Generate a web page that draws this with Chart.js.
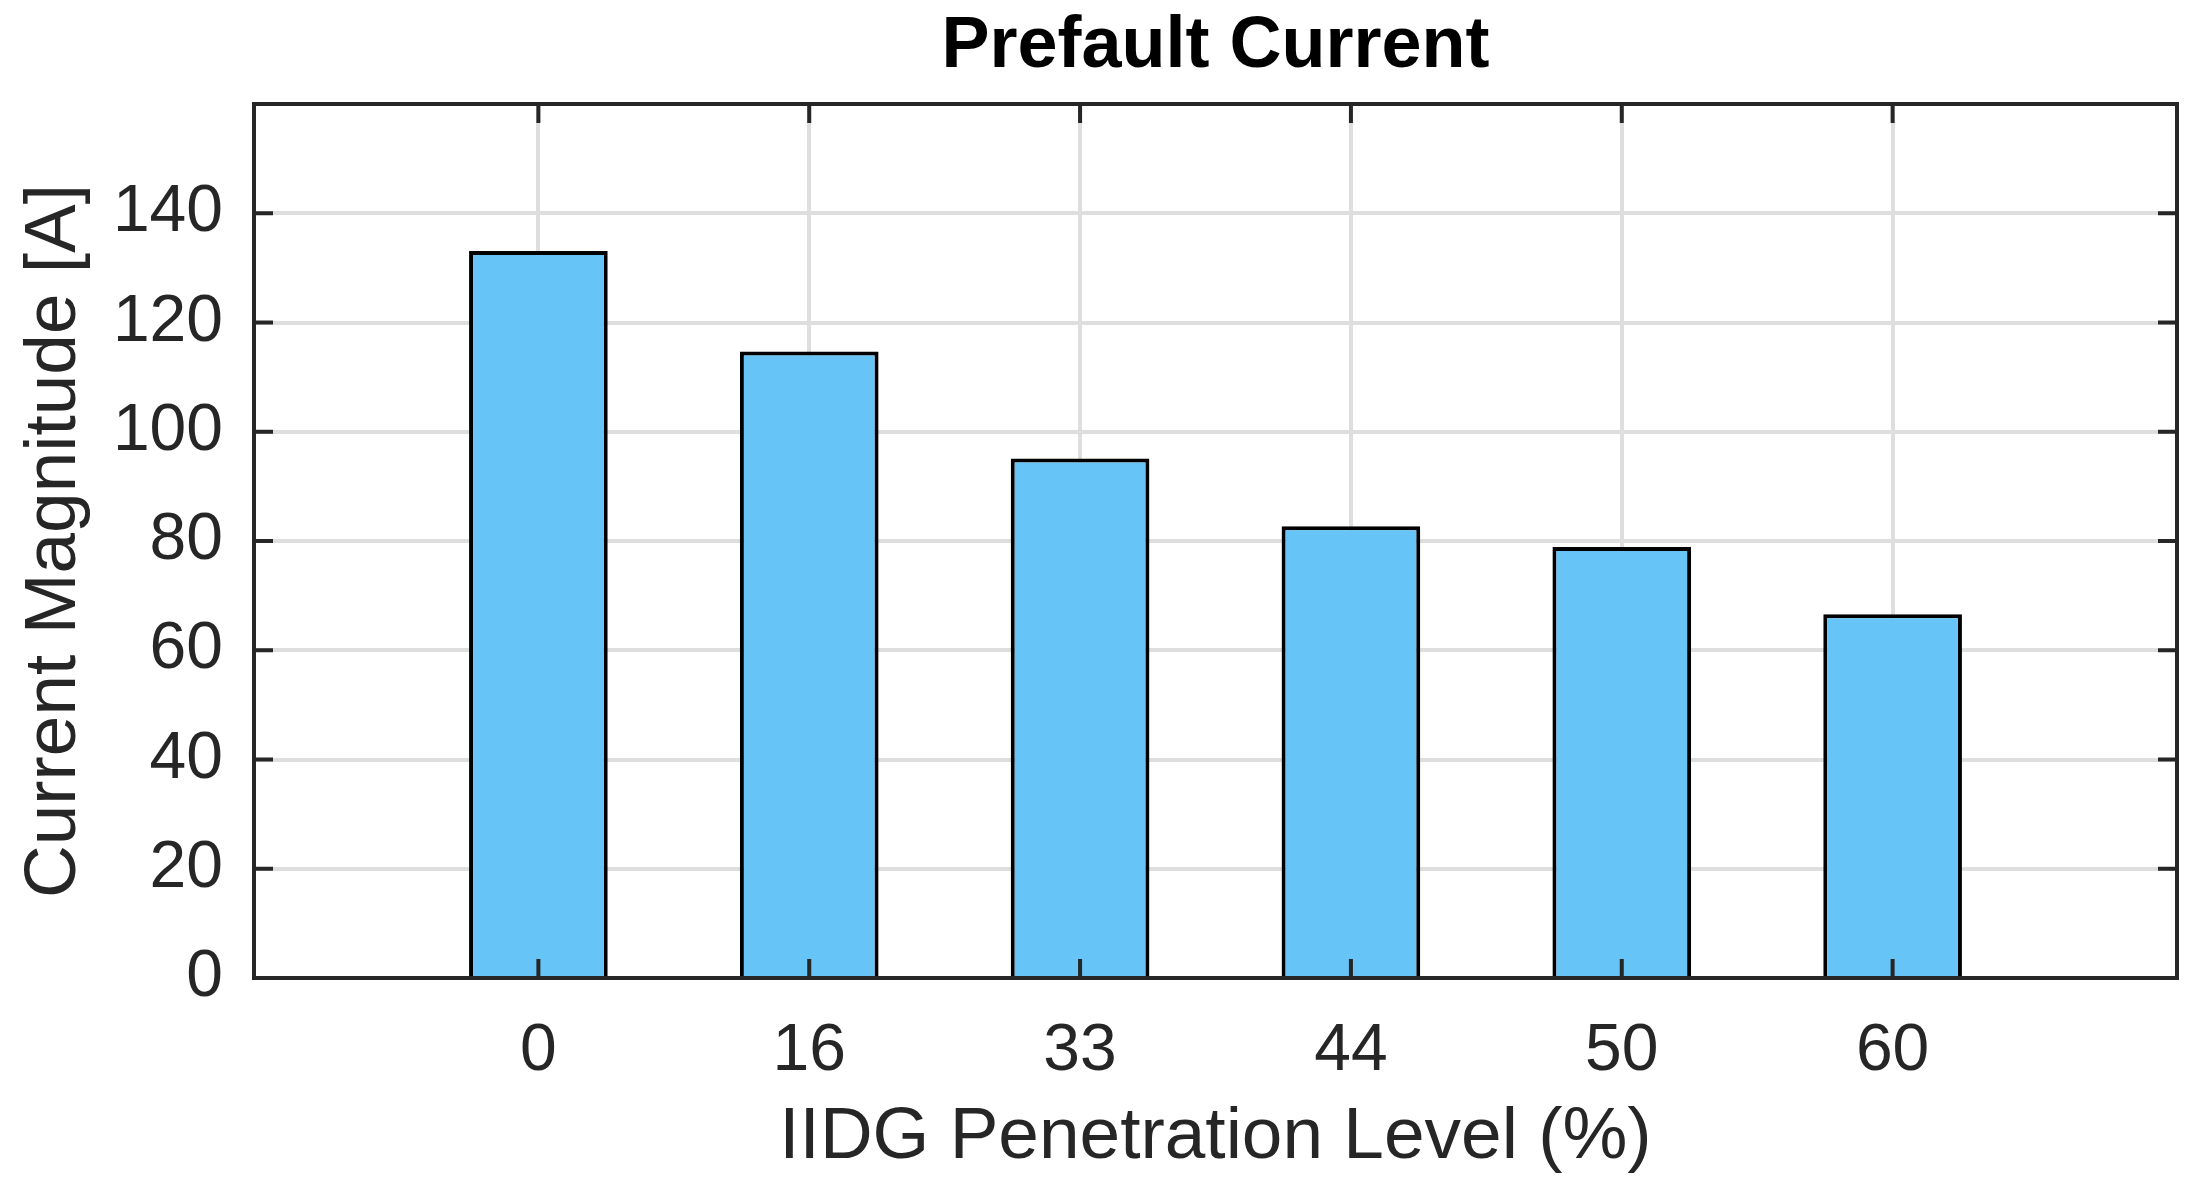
<!DOCTYPE html>
<html>
<head>
<meta charset="utf-8">
<script src="https://cdn.jsdelivr.net/npm/chart.js@4"></script>
<style>
  html, body { margin: 0; padding: 0; background: #ffffff; }
  #wrap { width: 2208px; height: 1193px; }
</style>
</head>
<body>
<div id="wrap"><canvas id="c" width="2208" height="1193"></canvas></div>
<script>
// ---- data ----
const categories = ['0', '16', '33', '44', '50', '60'];
const currentValues = [133.1, 114.7, 95.1, 82.7, 78.9, 66.6];
const yTickValues = [0, 20, 40, 60, 80, 100, 120, 140];

const titleText = 'Prefault Current';
const xTitle = 'IIDG Penetration Level (%)';
const yTitle = 'Current Magnitude [A]';

const FONT = "'Liberation Sans', Arial, Helvetica, sans-serif";
const AXIS_COLOR = '#262626';

const frameAndTicks = {
  id: 'frameAndTicks',
  afterDatasetsDraw(chart) {
    const { ctx, chartArea: a, scales: { x, y } } = chart;
    const tl = 19;
    ctx.save();
    ctx.strokeStyle = AXIS_COLOR;
    ctx.lineWidth = 4;
    ctx.beginPath();
    yTickValues.forEach(v => {
      const py = y.getPixelForValue(v);
      ctx.moveTo(a.left, py); ctx.lineTo(a.left + tl, py);
      ctx.moveTo(a.right, py); ctx.lineTo(a.right - tl, py);
    });
    categories.forEach((c, i) => {
      const px = x.getPixelForValue(i);
      ctx.moveTo(px, a.bottom); ctx.lineTo(px, a.bottom - tl);
      ctx.moveTo(px, a.top); ctx.lineTo(px, a.top + tl);
    });
    ctx.stroke();
    ctx.strokeRect(a.left, a.top, a.right - a.left, a.bottom - a.top);
    ctx.restore();
  },
  afterDraw(chart) {
    const { ctx, chartArea: a } = chart;
    ctx.save();
    ctx.fillStyle = '#000000';
    ctx.font = "bold 72px " + FONT;
    ctx.textAlign = 'center';
    ctx.textBaseline = 'alphabetic';
    ctx.fillText(titleText, (a.left + a.right) / 2, 67);
    ctx.restore();
  }
};

new Chart(document.getElementById('c'), {
  type: 'bar',
  data: {
    datasets: [{
      data: categories.map((c, i) => ({ x: i, y: currentValues[i] })),
      backgroundColor: 'rgb(103,196,247)',
      borderColor: '#000000',
      borderWidth: 4,
      borderSkipped: 'start',
      barPercentage: 0.512,
      categoryPercentage: 1.0
    }]
  },
  options: {
    responsive: false,
    devicePixelRatio: 1,
    animation: false,
    layout: { padding: { left: 0, right: 31, top: 104, bottom: 0 } },
    plugins: {
      legend: { display: false },
      tooltip: { enabled: false },
      title: { display: false }
    },
    scales: {
      x: {
        type: 'linear',
        offset: false,
        min: -1.05,
        max: 6.05,
        afterBuildTicks: s => { s.ticks = categories.map((c, i) => ({ value: i })); },
        afterFit: s => { s.height = 215; },
        grid: { color: '#dedede', lineWidth: 4, drawTicks: false, offset: false },
        border: { display: false },
        ticks: {
          color: AXIS_COLOR,
          font: { family: FONT, size: 66 },
          padding: 34,
          maxRotation: 0,
          autoSkip: false,
          callback: v => categories[v] !== undefined ? categories[v] : ''
        },
        title: {
          display: true,
          text: xTitle,
          color: AXIS_COLOR,
          font: { family: FONT, size: 73, lineHeight: 1.2 },
          padding: { top: 0, bottom: 11 }
        }
      },
      y: {
        min: 0,
        max: 160,
        afterFit: s => { s.width = 254; },
        grid: { color: '#dedede', lineWidth: 4, drawTicks: false },
        border: { display: false },
        ticks: {
          stepSize: 20,
          color: AXIS_COLOR,
          font: { family: FONT, size: 66 },
          padding: 31,
          callback: v => (yTickValues.includes(v) ? String(v) : '')
        },
        title: {
          display: true,
          text: yTitle,
          color: AXIS_COLOR,
          font: { family: FONT, size: 73, lineHeight: 1.2 },
          padding: { top: 11, bottom: 0 }
        }
      }
    }
  },
  plugins: [frameAndTicks]
});
</script>
</body>
</html>
